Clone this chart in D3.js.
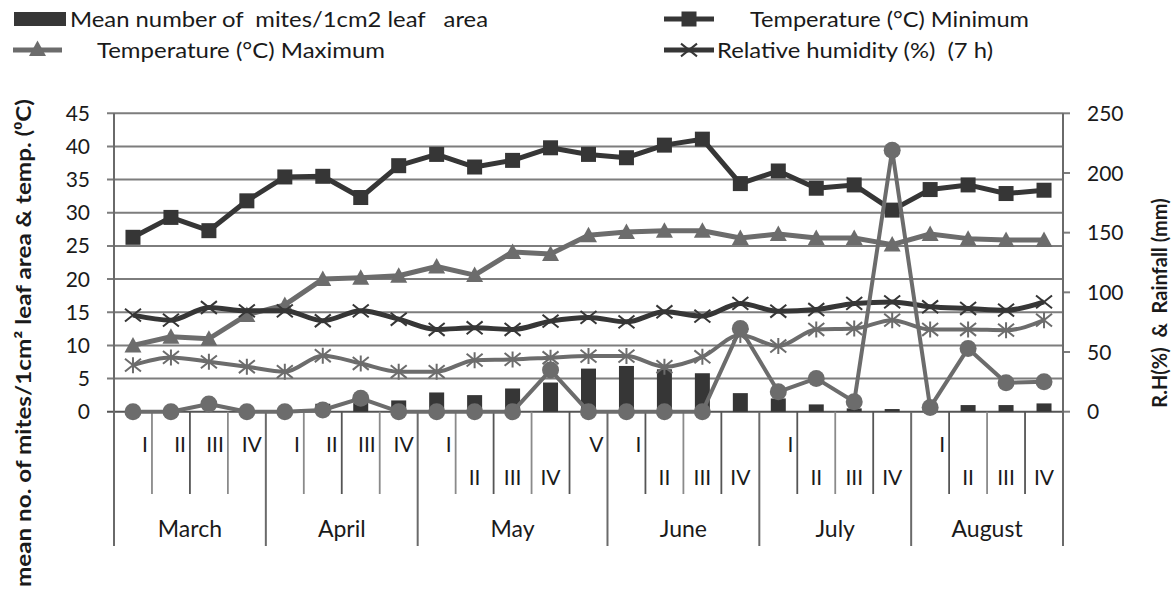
<!DOCTYPE html>
<html>
<head>
<meta charset="utf-8">
<script src="https://cdn.jsdelivr.net/npm/d3@7"></script>
<style>
  body { margin: 0; background: #fff; }
  text { font-family: Lato, "Open Sans", sans-serif; fill: #1a1a1a; }
</style>
</head>
<body>
<div class="canvas"></div>
<script>
// months and their weeks
const months = ['March', 'April', 'May', 'June', 'July', 'August'];
const weeksPerMonth = [4, 4, 5, 4, 4, 4];
const weekNames = ['I', 'II', 'III', 'IV', 'V'];

// series
const mites = [0, 0, 0, 0, 0, 1.2, 1.3, 1.7, 2.9, 2.5, 3.5, 4.4, 6.5, 6.9, 6.4, 5.8, 2.8, 2.0, 1.1, 0.5, 0.4, 0, 1.0, 1.0, 1.25];
const tempMinimum = [26.3, 29.3, 27.3, 31.8, 35.4, 35.5, 32.3, 37.1, 38.8, 36.9, 37.9, 39.8, 38.8, 38.3, 40.2, 41.1, 34.4, 36.3, 33.7, 34.2, 30.4, 33.5, 34.2, 32.9, 33.4];
const tempMaximum = [10.0, 11.3, 11.0, 14.6, 16.1, 20.0, 20.2, 20.5, 21.9, 20.6, 24.1, 23.8, 26.6, 27.1, 27.3, 27.3, 26.2, 26.8, 26.2, 26.2, 25.2, 26.8, 26.1, 25.9, 25.9];
const rh7 = [80.9, 76.7, 87.3, 84.5, 84.5, 76.2, 84.5, 77.5, 68.9, 70.3, 68.9, 75.9, 79.0, 75.3, 83.7, 80.1, 90.7, 84.2, 85.6, 90.7, 92.0, 87.9, 86.5, 85.1, 92.0];
const rh14 = [39.0, 45.5, 41.8, 37.7, 33.5, 46.9, 40.4, 33.5, 33.5, 43.2, 43.8, 45.2, 46.6, 46.6, 37.7, 46.0, 64.2, 55.0, 68.9, 69.7, 76.7, 68.9, 68.9, 68.3, 76.7];
const rainfall = [0, 0, 6.4, 0, 0, 1.4, 11.2, 0, 0, 0, 0, 34.9, 0, 0, 0, 0, 69.7, 16.7, 27.9, 8.4, 219, 3.6, 53, 24.3, 25.1];

// axis ticks
const leftTicks = [0, 5, 10, 15, 20, 25, 30, 35, 40, 45];
const rightTicks = [0, 50, 100, 150, 200, 250];

const dark = '#363636';
const grey = '#6c6c6c';

// build the categories
const cats = [];
months.forEach((m, mi) => {
    for (let w = 0; w < weeksPerMonth[mi]; w++) {
        cats.push({ month: m, monthIndex: mi, week: weekNames[w], key: m + '-' + weekNames[w] });
    }
});

const svg = d3.select('.canvas')
    .append('svg')
    .attr('width', 1172)
    .attr('height', 596);

const plot = { left: 114, right: 1063, top: 113.3, bottom: 411.7 };
const weekRowBottom = 494;
const monthRowBottom = 546;

const x = d3.scaleBand()
    .domain(cats.map(c => c.key))
    .range([plot.left, plot.right]);

const yL = d3.scaleLinear().domain([0, 45]).range([plot.bottom, plot.top]);
const yR = d3.scaleLinear().domain([0, 250]).range([plot.bottom, plot.top]);
const cx = i => x(cats[i].key) + x.bandwidth() / 2;

// gridlines + left ticks
svg.append('g').selectAll('line')
    .data(leftTicks)
    .enter().append('line')
    .attr('x1', plot.left - 7)
    .attr('x2', plot.right)
    .attr('y1', d => yL(d))
    .attr('y2', d => yL(d))
    .attr('stroke', d => d === 0 ? '#555' : '#7d7d7d')
    .attr('stroke-width', 2);

svg.append('g').selectAll('text')
    .data(leftTicks)
    .enter().append('text')
    .attr('x', 90)
    .attr('y', d => yL(d))
    .attr('dy', '0.36em')
    .attr('text-anchor', 'end')
    .attr('font-size', 21)
    .text(d => d);

// right ticks
svg.append('g').selectAll('line')
    .data(rightTicks)
    .enter().append('line')
    .attr('x1', plot.right)
    .attr('x2', plot.right + 7)
    .attr('y1', d => yR(d))
    .attr('y2', d => yR(d))
    .attr('stroke', '#7d7d7d')
    .attr('stroke-width', 2);

svg.append('g').selectAll('text')
    .data(rightTicks)
    .enter().append('text')
    .attr('x', 1087)
    .attr('y', d => yR(d))
    .attr('dy', '0.36em')
    .attr('font-size', 21)
    .text(d => d);

// axis lines
[plot.left, plot.right].forEach(px => {
    svg.append('line')
        .attr('x1', px).attr('x2', px)
        .attr('y1', plot.top).attr('y2', monthRowBottom)
        .attr('stroke', '#6a6a6a')
        .attr('stroke-width', 2);
});

// category table under the plot
const firstOfMonth = new Set();
let acc = 0;
weeksPerMonth.forEach(n => { firstOfMonth.add(acc); acc += n; });
const lastIndex = cats.length - 1;

cats.forEach((c, i) => {
    const bx = x(c.key) + x.bandwidth();
    const monthEnd = firstOfMonth.has(i + 1) || i === lastIndex;
    if (!monthEnd) {
        svg.append('line')
            .attr('x1', bx).attr('x2', bx)
            .attr('y1', plot.bottom).attr('y2', weekRowBottom)
            .attr('stroke', i % 2 ? '#555' : '#8a8a8a')
            .attr('stroke-width', 1.8);
    } else if (i !== lastIndex) {
        svg.append('line')
            .attr('x1', bx).attr('x2', bx)
            .attr('y1', plot.bottom).attr('y2', monthRowBottom)
            .attr('stroke', '#6a6a6a')
            .attr('stroke-width', 2);
    }
});

// week labels: some sit high against the right border, the rest centred lower
const highLabel = i => cats[i].monthIndex < 2 || firstOfMonth.has(i) || cats[i].week === 'V';
svg.append('g').selectAll('text')
    .data(cats)
    .enter().append('text')
    .attr('x', (d, i) => highLabel(i) ? x(d.key) + x.bandwidth() - 4 : cx(i))
    .attr('y', (d, i) => highLabel(i) ? 444 : 477)
    .attr('dy', '0.36em')
    .attr('text-anchor', (d, i) => highLabel(i) ? 'end' : 'middle')
    .attr('font-size', 21)
    .text(d => d.week);

// month labels
months.forEach((m, mi) => {
    const ks = cats.filter(c => c.monthIndex === mi);
    const x0 = x(ks[0].key), x1 = x(ks[ks.length - 1].key) + x.bandwidth();
    svg.append('text')
        .attr('x', (x0 + x1) / 2)
        .attr('y', 529)
        .attr('dy', '0.36em')
        .attr('text-anchor', 'middle')
        .attr('font-size', 23)
        .text(m);
});

// bars
svg.append('g').selectAll('rect')
    .data(mites)
    .enter().append('rect')
    .attr('x', (d, i) => cx(i) - 7.5)
    .attr('width', 15)
    .attr('y', d => yL(d))
    .attr('height', d => plot.bottom - yL(d))
    .attr('fill', dark);

// marker helpers
const triPath = 'M0,-8.5L8.5,7L-8.5,7Z';
function drawMarker(g, type, px, py, color) {
    if (type === 'square') {
        g.append('rect').attr('x', px - 7.5).attr('y', py - 7.5)
            .attr('width', 15).attr('height', 15).attr('fill', color);
    } else if (type === 'triangle') {
        g.append('path').attr('d', triPath)
            .attr('transform', `translate(${px},${py})`).attr('fill', color);
    } else if (type === 'circle') {
        g.append('circle').attr('cx', px).attr('cy', py).attr('r', 8.5).attr('fill', color);
    } else {
        const s = 8;
        const p = `M${px - s},${py - s * 0.8}L${px + s},${py + s * 0.8}M${px - s},${py + s * 0.8}L${px + s},${py - s * 0.8}` +
            (type === 'star' ? `M${px},${py - s}L${px},${py + s}` : '');
        g.append('path').attr('d', p).attr('stroke', color).attr('stroke-width', 2).attr('fill', 'none');
    }
}

const series = [
    { values: tempMinimum, y: yL, color: dark, width: 5, marker: 'square' },
    { values: tempMaximum, y: yL, color: grey, width: 5, marker: 'triangle' },
    { values: rh7, y: yR, color: dark, width: 5, marker: 'x' },
    { values: rh14, y: yR, color: grey, width: 4, marker: 'star' },
    { values: rainfall, y: yR, color: grey, width: 4, marker: 'circle' }
];

series.forEach(s => {
    const g = svg.append('g');
    const line = d3.line()
        .x((d, i) => cx(i))
        .y(d => s.y(d))
        .curve(s.marker === 'x' || s.marker === 'star' ? d3.curveMonotoneX : d3.curveLinear);
    g.append('path')
        .datum(s.values)
        .attr('d', line)
        .attr('fill', 'none')
        .attr('stroke', s.color)
        .attr('stroke-width', s.width)
        .attr('stroke-linejoin', 'round');
    s.values.forEach((v, i) => drawMarker(g, s.marker, cx(i), s.y(v), s.color));
});

// axis titles
svg.append('text')
    .attr('transform', 'translate(23,343) rotate(-90)')
    .attr('text-anchor', 'middle')
    .attr('dy', '0.36em')
    .attr('font-size', 21)
    .attr('font-weight', 'bold')
    .attr('textLength', 488)
    .attr('lengthAdjust', 'spacingAndGlyphs')
    .text('mean no. of mites/1cm² leaf area & temp. (⁰C)');

svg.append('text')
    .attr('transform', 'translate(1160,303) rotate(-90)')
    .attr('text-anchor', 'middle')
    .attr('dy', '0.36em')
    .attr('font-size', 20)
    .attr('font-weight', 'bold')
    .style('white-space', 'pre')
    .text('R.H(%)  &  Rainfall (mm)');

// legend
function legendText(px, py, str, len) {
    legend.append('text').attr('x', px).attr('y', py).attr('dy', '0.36em').attr('font-size', 21)
        .style('white-space', 'pre')
        .attr('textLength', len)
        .attr('lengthAdjust', 'spacingAndGlyphs')
        .text(str);
}
const legend = svg.append('g');
legend.append('rect').attr('x', 14).attr('y', 12).attr('width', 52).attr('height', 14).attr('fill', dark);
legendText(70, 19, 'Mean number of  mites/1cm2 leaf   area', 418);

legend.append('line').attr('x1', 13).attr('x2', 62).attr('y1', 50).attr('y2', 50)
    .attr('stroke', grey).attr('stroke-width', 5);
drawMarker(legend, 'triangle', 37.5, 49, grey);
legendText(97, 50, 'Temperature (°C) Maximum', 288);

legend.append('line').attr('x1', 664).attr('x2', 714).attr('y1', 19).attr('y2', 19)
    .attr('stroke', dark).attr('stroke-width', 5);
drawMarker(legend, 'square', 689, 19, dark);
legendText(750, 19, 'Temperature (°C) Minimum', 279);

legend.append('line').attr('x1', 664).attr('x2', 714).attr('y1', 50).attr('y2', 50)
    .attr('stroke', dark).attr('stroke-width', 5);
drawMarker(legend, 'x', 689, 50, dark);
legendText(717, 50, 'Relative humidity (%)  (7 h)', 276);
</script>
</body>
</html>
